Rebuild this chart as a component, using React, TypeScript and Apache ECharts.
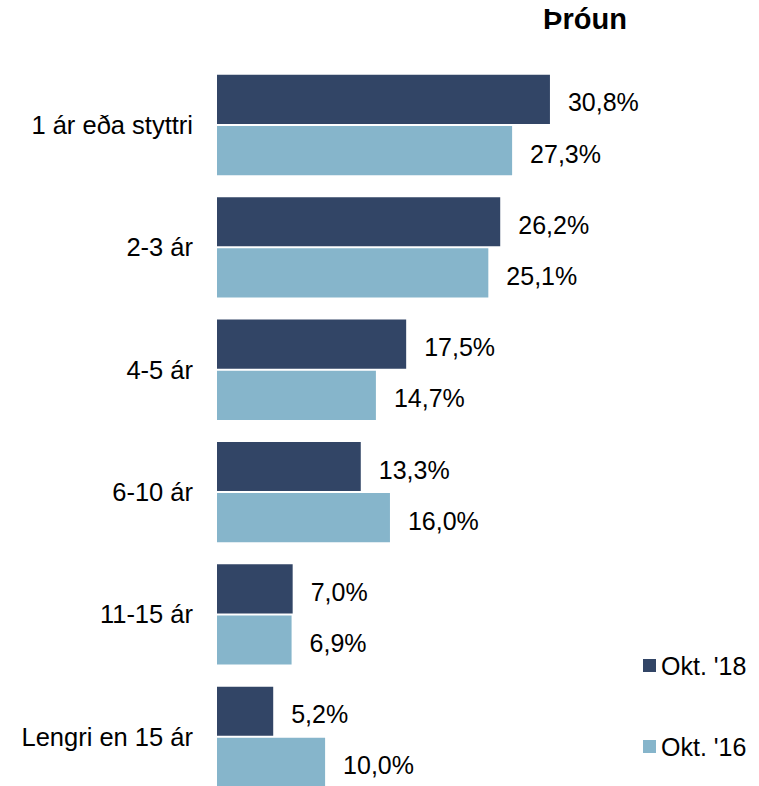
import React, { useEffect, useRef } from "react";
import * as echarts from "echarts";

const categories = ["1 ár eða styttri", "2-3 ár", "4-5 ár", "6-10 ár", "11-15 ár", "Lengri en 15 ár"];
const okt18 = [30.8, 26.2, 17.5, 13.3, 7.0, 5.2];
const okt16 = [27.3, 25.1, 14.7, 16.0, 6.9, 10.0];
const seriesNames = ["Okt. '18", "Okt. '16"];
const titleText = "Þróun";

const FONT = "'Liberation Sans', Arial, sans-serif";

export default function App() {
  const ref = useRef<HTMLDivElement>(null);
  useEffect(() => {
    if (!ref.current) return;
    const chart = echarts.init(ref.current, undefined, { renderer: "svg" });
    const fmt = (p: any) => Number(p.value).toFixed(1).replace(".", ",") + "%";
    const labelCfg = {
      show: true,
      position: "right",
      distance: 18,
      offset: [0, 3],
      formatter: fmt,
      color: "#000",
      fontSize: 25,
      fontFamily: FONT,
    };
    chart.setOption({
      animation: false,
      title: {
        text: titleText,
        left: 580,
        top: -1,
        textAlign: "center",
        textStyle: { fontSize: 29, fontWeight: "bold", color: "#000", fontFamily: FONT },
      },
      legend: {
        orient: "vertical",
        left: 638,
        top: 648,
        itemGap: 56,
        itemWidth: 13,
        itemHeight: 13,
        icon: "rect",
        textStyle: { fontSize: 25, color: "#000", fontFamily: FONT },
        data: seriesNames,
      },
      grid: { left: 217, right: 109.6, top: 63.8, bottom: 0, containLabel: false },
      xAxis: { type: "value", min: 0, max: 40, show: false },
      yAxis: {
        type: "category",
        data: categories,
        inverse: true,
        axisLine: { show: false },
        axisTick: { show: false },
        axisLabel: { margin: 24, fontSize: 25.5, color: "#000", fontFamily: FONT },
      },
      series: [
        {
          name: seriesNames[0],
          type: "bar",
          data: okt18,
          barCategoryGap: "18%",
          barGap: "4%",
          itemStyle: { color: "#324566" },
          label: labelCfg,
        },
        {
          name: seriesNames[1],
          type: "bar",
          data: okt16,
          barCategoryGap: "18%",
          barGap: "4%",
          itemStyle: { color: "#86B5CB" },
          label: labelCfg,
        },
      ],
    });
    return () => chart.dispose();
  }, []);
  return (
    <div style={{ position: "absolute", left: 0, top: 0, width: 759, height: 786, overflow: "hidden" }}>
      <div ref={ref} style={{ width: 759, height: 798 }} />
    </div>
  );
}
